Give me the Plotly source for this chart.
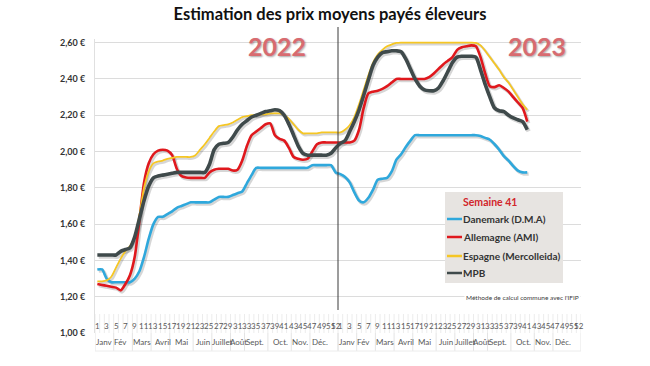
import plotly.graph_objects as go

# ---------------- data ----------------
weeks_2022 = list(range(1, 53))
weeks_2023 = list(range(1, 42))

danemark_2022 = [1.35, 1.35, 1.30, 1.28, 1.28, 1.28, 1.28, 1.28, 1.30, 1.34,
                 1.42, 1.52, 1.60, 1.64, 1.64, 1.655, 1.67, 1.69, 1.70, 1.71,
                 1.72, 1.72, 1.72, 1.72, 1.72, 1.735, 1.75, 1.75, 1.75, 1.76,
                 1.77, 1.78, 1.825, 1.87, 1.91, 1.91, 1.91, 1.91, 1.91, 1.91,
                 1.91, 1.91, 1.91, 1.91, 1.91, 1.91, 1.925, 1.925, 1.925, 1.925,
                 1.925, 1.885]
allemagne_2022 = [1.27, 1.265, 1.26, 1.255, 1.25, 1.235, 1.27, 1.32, 1.42, 1.62,
                  1.83, 1.935, 1.985, 2.005, 2.01, 2.005, 1.98, 1.905, 1.865, 1.857,
                  1.855, 1.855, 1.855, 1.855, 1.885, 1.90, 1.905, 1.905, 1.905, 1.895,
                  1.90, 1.95, 2.03, 2.09, 2.11, 2.13, 2.15, 2.155, 2.09, 2.07,
                  2.06, 2.02, 1.97, 1.96, 1.955, 1.96, 2.00, 2.04, 2.05, 2.05,
                  2.05, 2.05]
espagne_2022 = [1.285, 1.285, 1.29, 1.31, 1.36, 1.41, 1.45, 1.48, 1.53, 1.65,
                1.80, 1.89, 1.935, 1.945, 1.95, 1.96, 1.965, 1.97, 1.97, 1.97,
                1.97, 1.98, 2.01, 2.04, 2.075, 2.11, 2.14, 2.145, 2.15, 2.16,
                2.175, 2.19, 2.195, 2.20, 2.20, 2.205, 2.205, 2.21, 2.21, 2.21,
                2.20, 2.18, 2.15, 2.12, 2.10, 2.10, 2.10, 2.10, 2.105, 2.105,
                2.105, 2.105]
mpb_2022 = [1.43, 1.43, 1.43, 1.43, 1.43, 1.45, 1.46, 1.47, 1.53, 1.63,
            1.73, 1.81, 1.855, 1.865, 1.87, 1.875, 1.88, 1.885, 1.885, 1.885,
            1.885, 1.885, 1.885, 1.885, 1.93, 2.01, 2.04, 2.045, 2.05, 2.08,
            2.12, 2.15, 2.17, 2.19, 2.20, 2.21, 2.22, 2.225, 2.23, 2.225,
            2.20, 2.15, 2.09, 2.03, 1.99, 1.98, 1.98, 1.98, 1.98, 1.98,
            1.99, 2.02]

danemark_2023 = [1.875, 1.86, 1.83, 1.775, 1.73, 1.72, 1.745, 1.79, 1.845, 1.85,
                 1.855, 1.89, 1.955, 1.985, 2.025, 2.06, 2.09, 2.09, 2.09, 2.09,
                 2.09, 2.09, 2.09, 2.09, 2.09, 2.09, 2.09, 2.09, 2.09, 2.09,
                 2.085, 2.075, 2.065, 2.04, 2.01, 1.975, 1.95, 1.92, 1.895, 1.885,
                 1.885]
allemagne_2023 = [2.05, 2.05, 2.05, 2.06, 2.12, 2.24, 2.32, 2.33, 2.335, 2.345,
                  2.36, 2.38, 2.40, 2.40, 2.40, 2.40, 2.40, 2.40, 2.40, 2.41,
                  2.43, 2.455, 2.48, 2.50, 2.52, 2.56, 2.575, 2.58, 2.585, 2.58,
                  2.52, 2.43, 2.36, 2.355, 2.365, 2.35, 2.33, 2.30, 2.27, 2.24,
                  2.165]
espagne_2023 = [2.105, 2.12, 2.145, 2.19, 2.26, 2.34, 2.42, 2.49, 2.535, 2.56,
                2.58, 2.59, 2.598, 2.60, 2.60, 2.60, 2.60, 2.60, 2.60, 2.60,
                2.60, 2.60, 2.60, 2.60, 2.60, 2.60, 2.60, 2.60, 2.60, 2.598,
                2.585, 2.555, 2.52, 2.485, 2.45, 2.41, 2.38, 2.34, 2.30, 2.26,
                2.23]
mpb_2023 = [2.045, 2.06, 2.11, 2.165, 2.23, 2.31, 2.395, 2.475, 2.52, 2.545,
            2.55, 2.555, 2.555, 2.55, 2.51, 2.455, 2.40, 2.36, 2.34, 2.335,
            2.335, 2.35, 2.39, 2.44, 2.49, 2.52, 2.525, 2.525, 2.525, 2.52,
            2.45, 2.37, 2.30, 2.24, 2.225, 2.22, 2.20, 2.185, 2.175, 2.165,
            2.12]

series_names = ["Danemark (D.M.A)", "Allemagne (AMI)", "Espagne (Mercolleida)", "MPB"]
years = ["2022", "2023"]
week_tick_labels = [1, 3, 5, 7, 9, 11, 13, 15, 17, 19, 21, 23, 25, 27, 29, 31,
                    33, 35, 37, 39, 41, 43, 45, 47, 49, 51, 52]
month_labels = ["Janv", "Fév", "Mars", "Avril", "Mai", "Juin", "Juillet", "Août",
                "Sept.", "Oct.", "Nov.", "Déc."]
ytick_vals = [1.0, 1.2, 1.4, 1.6, 1.8, 2.0, 2.2, 2.4, 2.6]
ytick_text = ["1,00 €", "1,20 €", "1,40 €", "1,60 €", "1,80 €", "2,00 €",
              "2,20 €", "2,40 €", "2,60 €"]

# ---------------- layout constants (screen pixels) ----------------
W, H = 650, 366
P_LEFT, P_RIGHT, P_TOP, P_BOTTOM = 95, 581, 39, 333   # plot box on screen
PW, PH = P_RIGHT - P_LEFT, P_BOTTOM - P_TOP
WEEKS_PER_YEAR = 52
N_CAT = 2 * WEEKS_PER_YEAR
XR = [-0.5, N_CAT - 0.5]
YR = [1.0, 2.62]
month_centers = [1.5, 5.0, 9.6, 14.1, 18.1, 22.6, 26.7, 30.2, 33.8, 39.3, 43.3, 47.7]
month_bounds = [3.5, 7.5, 11.5, 15.5, 20.5, 24.5, 28.5, 31.5, 36.5, 41.5, 45.5, 51.5]


def px_x(px):
    return (px - P_LEFT) / PW


def px_y(py):
    return (P_BOTTOM - py) / PH


colors = ["#2fa8dc", "#e0181d", "#f5c624", "#3f4a4b"]
widths = [2.6, 2.6, 1.8, 3.6]

x2022 = [w - 1 for w in weeks_2022]
x2023 = [WEEKS_PER_YEAR + w - 1 for w in weeks_2023]
xs = x2022 + x2023
data = [danemark_2022 + danemark_2023,
        allemagne_2022 + allemagne_2023,
        espagne_2022 + espagne_2023,
        mpb_2022 + mpb_2023]

fig = go.Figure()

# soft shadows: same data drawn on an overlay axis shifted by ~1.5 px
dx = 1.4 / (PW / (XR[1] - XR[0]))
dy = 1.6 / (PH / (YR[1] - YR[0]))
for name, ys, w in zip(series_names, data, widths):
    fig.add_trace(go.Scatter(x=xs, y=ys, mode="lines", xaxis="x2", yaxis="y2",
                             line=dict(color="rgba(0,0,0,0.16)", width=w + 0.8,
                                       shape="spline", smoothing=0.7),
                             showlegend=False, hoverinfo="skip"))
for name, ys, c, w in zip(series_names, data, colors, widths):
    fig.add_trace(go.Scatter(x=xs, y=ys, mode="lines", name=name, xaxis="x3", yaxis="y3",
                             line=dict(color=c, width=w, shape="spline", smoothing=0.7),
                             showlegend=False))

font_family = "Lato, 'Open Sans', sans-serif"

shapes = []
# year separator
shapes.append(dict(type="line", xref="x", yref="paper", x0=WEEKS_PER_YEAR - 0.5,
                   x1=WEEKS_PER_YEAR - 0.5, y0=px_y(27), y1=px_y(310),
                   line=dict(color="#3a3a3a", width=1)))
# category axis grid (label area)
for k in range(N_CAT + 1):
    shapes.append(dict(type="line", xref="x", yref="paper", x0=k - 0.5, x1=k - 0.5,
                       y0=px_y(314), y1=px_y(333), line=dict(color="#ececec", width=1),
                       layer="below"))
for off in (0, WEEKS_PER_YEAR):
    for b in [-0.5] + month_bounds:
        shapes.append(dict(type="line", xref="x", yref="paper", x0=off + b, x1=off + b,
                           y0=px_y(333), y1=px_y(351), line=dict(color="#e4e4e4", width=1),
                           layer="below"))
shapes.append(dict(type="line", xref="paper", yref="paper", x0=0, x1=1,
                   y0=px_y(351), y1=px_y(351), line=dict(color="#ececec", width=1),
                   layer="below"))
# legend box
shapes.append(dict(type="rect", xref="paper", yref="paper", x0=px_x(445), x1=px_x(563),
                   y0=px_y(283), y1=px_y(192), fillcolor="#e7e4e1", line=dict(width=0)))
leg_y = [219, 237, 256, 273]
for c, yy in zip(colors, leg_y):
    shapes.append(dict(type="line", xref="paper", yref="paper", x0=px_x(447), x1=px_x(462),
                       y0=px_y(yy), y1=px_y(yy), line=dict(color=c, width=2.5)))

ann = []
for off in (0, WEEKS_PER_YEAR):
    for wk in week_tick_labels:
        ann.append(dict(x=off + wk - 1, y=px_y(325.5), xref="x", yref="paper",
                        text=str(wk), showarrow=False, xanchor="center", yanchor="middle",
                        font=dict(family=font_family, size=8, color="#595959")))
    for m, c in zip(month_labels, month_centers):
        ann.append(dict(x=off + c, y=px_y(342), xref="x", yref="paper", text=m,
                        showarrow=False, xanchor="center", yanchor="middle",
                        font=dict(family=font_family, size=8, color="#595959")))

year_px = [277, 537]
for yr, xp in zip(years, year_px):
    ann.append(dict(x=px_x(xp), y=px_y(46), xref="paper", yref="paper", text="<b>%s</b>" % yr,
                    showarrow=False, xanchor="center", yanchor="middle",
                    font=dict(family=font_family, size=25, color="#d86b70",
                              shadow="1px 1px 2px rgba(0,0,0,0.35)")))

ann.append(dict(x=px_x(461), y=px_y(202), xref="paper", yref="paper",
                text="<b>Semaine 41</b>", showarrow=False, xanchor="left", yanchor="middle",
                font=dict(family=font_family, size=10.5, color="#d2262b")))
for name, yy in zip(series_names, leg_y):
    ann.append(dict(x=px_x(461), y=px_y(yy), xref="paper", yref="paper",
                    text="<b>%s</b>" % name, showarrow=False, xanchor="left", yanchor="middle",
                    font=dict(family=font_family, size=10, color="#333333")))
ann.append(dict(x=px_x(522), y=px_y(297), xref="paper", yref="paper",
                text="Méthode de calcul commune avec l'IFIP", showarrow=False,
                xanchor="center", yanchor="middle", bgcolor="white",
                font=dict(family=font_family, size=6.5, color="#404040")))

fig.update_layout(
    width=W, height=H,
    margin=dict(l=P_LEFT, r=W - P_RIGHT, t=P_TOP, b=H - P_BOTTOM),
    paper_bgcolor="white", plot_bgcolor="white",
    title=dict(text="<b>Estimation des prix moyens payés éleveurs</b>",
               x=330 / W, xref="container", xanchor="center",
               y=1 - 14 / H, yref="container", yanchor="middle",
               font=dict(family=font_family, size=16.5, color="#111111")),
    xaxis=dict(range=XR, showgrid=False, zeroline=False, showticklabels=False,
               ticks="", showline=False),
    yaxis=dict(range=YR, tickvals=ytick_vals, ticktext=ytick_text,
               showgrid=True, gridcolor="#dcdcdc", gridwidth=1, zeroline=False,
               showline=True, linecolor="#e0e0e0", linewidth=1, ticks="",
               ticklabelstandoff=7,
               tickfont=dict(family=font_family, size=9, color="#333333", weight="bold")),
    xaxis2=dict(range=[XR[0] - dx, XR[1] - dx], overlaying="x", anchor="y2", visible=False),
    yaxis2=dict(range=[YR[0] + dy, YR[1] + dy], overlaying="y", anchor="x2", visible=False),
    xaxis3=dict(range=XR, overlaying="x", anchor="y3", visible=False),
    yaxis3=dict(range=YR, overlaying="y", anchor="x3", visible=False),
    shapes=shapes,
    annotations=ann,
    showlegend=False,
)

# remove the browser's default page margin so the figure fills the 650x366 window
fig.write_html("out.html", config={"displayModeBar": False},
               post_script="document.body.style.margin='0px';")
